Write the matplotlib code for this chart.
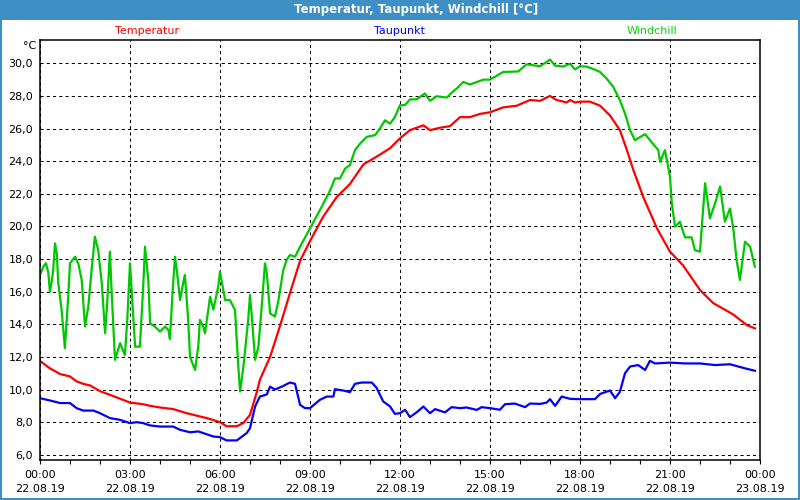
import matplotlib.pyplot as plt
import matplotlib.ticker as mticker
from matplotlib.patches import Rectangle

# -----------------------------
# Data (hours since 22.08.19 00:00)
# -----------------------------
temp_t = [0, 0.33, 0.67, 1.0, 1.22, 1.44, 1.67, 2.0, 2.44, 3.0,
          3.44, 3.67, 4.0, 4.44, 4.89, 5.33, 5.56, 6.0, 6.22, 6.56,
          6.78, 7.0, 7.22, 7.33, 7.67, 8.0, 8.33, 8.67, 9.0, 9.44,
          9.89, 10.33, 10.78, 11.33, 11.67, 12.0, 12.33, 12.78, 13.0, 13.33,
          13.67, 14.0, 14.33, 14.67, 15.0, 15.44, 15.89, 16.33, 16.67, 17.0,
          17.22, 17.56, 17.67, 17.83, 18.0, 18.33, 18.67, 19.0, 19.33, 19.56,
          19.78, 20.11, 20.56, 21.0, 21.44, 22.0, 22.44, 23.11, 23.56, 23.83]
temp_v = [11.75, 11.3, 10.95, 10.8, 10.5, 10.35, 10.25, 9.9, 9.6, 9.2,
          9.1, 9.0, 8.9, 8.8, 8.55, 8.35, 8.25, 8.0, 7.75, 7.75,
          7.95, 8.45, 9.8, 10.6, 12.0, 13.9, 15.9, 17.9, 19.1, 20.6,
          21.8, 22.6, 23.8, 24.4, 24.8, 25.4, 25.9, 26.2, 25.9, 26.05,
          26.15, 26.7, 26.7, 26.9, 27.0, 27.3, 27.4, 27.75, 27.7, 28.0,
          27.75, 27.6, 27.75, 27.6, 27.65, 27.65, 27.4, 26.8, 25.9, 24.7,
          23.45, 21.8, 19.9, 18.45, 17.6, 16.1, 15.3, 14.6, 13.95, 13.75]

dew_t = [0, 0.33, 0.67, 1.0, 1.22, 1.44, 1.78, 2.0, 2.33, 2.67,
         3.0, 3.22, 3.44, 3.67, 4.0, 4.44, 4.67, 5.0, 5.28, 5.44,
         5.78, 6.0, 6.22, 6.56, 6.89, 7.0, 7.17, 7.33, 7.56, 7.67,
         7.83, 8.11, 8.33, 8.5, 8.67, 8.83, 9.0, 9.33, 9.56, 9.78,
         9.83, 10.11, 10.33, 10.5, 10.72, 11.06, 11.22, 11.44, 11.67, 11.83,
         12.0, 12.17, 12.33, 12.56, 12.78, 13.0, 13.17, 13.33, 13.5, 13.72,
         14.0, 14.22, 14.56, 14.72, 15.0, 15.33, 15.5, 15.83, 16.17, 16.33,
         16.67, 16.89, 17.0, 17.17, 17.39, 17.67, 18.0, 18.5, 18.67, 19.0,
         19.17, 19.33, 19.5, 19.67, 19.94, 20.17, 20.33, 20.5, 21.0, 21.5,
         22.0, 22.5, 23.0, 23.5, 23.83]
dew_v = [9.47, 9.33, 9.17, 9.17, 8.86, 8.71, 8.71, 8.55, 8.25, 8.14,
         7.94, 8.0, 7.94, 7.8, 7.73, 7.73, 7.53, 7.38, 7.43, 7.33,
         7.12, 7.08, 6.88, 6.88, 7.33, 7.63, 8.96, 9.57, 9.7, 10.18,
         10.0, 10.22, 10.43, 10.35, 9.06, 8.86, 8.86, 9.37, 9.57, 9.57,
         10.02, 9.94, 9.84, 10.35, 10.43, 10.43, 10.1, 9.27, 8.96, 8.51,
         8.55, 8.76, 8.31, 8.61, 8.96, 8.55, 8.8, 8.7, 8.6, 8.92,
         8.86, 8.9, 8.75, 8.92, 8.86, 8.76, 9.1, 9.14, 8.92, 9.14,
         9.12, 9.2, 9.41, 9.0, 9.57, 9.43, 9.41, 9.41, 9.73, 9.94,
         9.47, 9.86, 11.0, 11.41, 11.5, 11.2, 11.76, 11.6, 11.65, 11.6,
         11.6, 11.5, 11.55, 11.3, 11.15]

wind_t = [0, 0.11, 0.2, 0.28, 0.33, 0.39, 0.44, 0.5, 0.56, 0.61,
          0.72, 0.83, 0.87, 0.94, 1.0, 1.17, 1.28, 1.39, 1.5, 1.61,
          1.72, 1.83, 1.94, 2.06, 2.17, 2.24, 2.33, 2.39, 2.5, 2.67,
          2.83, 2.91, 3.0, 3.06, 3.17, 3.33, 3.44, 3.5, 3.61, 3.67,
          3.83, 4.0, 4.17, 4.28, 4.33, 4.42, 4.5, 4.56, 4.67, 4.78,
          4.83, 4.94, 5.0, 5.17, 5.28, 5.33, 5.44, 5.5, 5.61, 5.67,
          5.78, 5.94, 6.0, 6.06, 6.17, 6.33, 6.5, 6.61, 6.67, 6.78,
          6.94, 7.0, 7.06, 7.17, 7.28, 7.39, 7.5, 7.56, 7.67, 7.83,
          7.94, 8.11, 8.22, 8.33, 8.5, 8.67, 9.0, 9.33, 9.67, 9.83,
          10.0, 10.17, 10.33, 10.5, 10.67, 10.89, 11.17, 11.33, 11.5, 11.67,
          11.83, 12.0, 12.17, 12.33, 12.56, 12.83, 13.0, 13.22, 13.56, 13.78,
          13.89, 14.11, 14.33, 14.78, 15.0, 15.44, 15.94, 16.22, 16.67, 17.0,
          17.17, 17.44, 17.67, 17.83, 18.0, 18.22, 18.44, 18.67, 18.89, 19.11,
          19.33, 19.5, 19.67, 19.83, 20.17, 20.33, 20.61, 20.67, 20.83, 20.94,
          21.0, 21.06, 21.17, 21.33, 21.5, 21.72, 21.83, 22.0, 22.06, 22.17,
          22.22, 22.33, 22.5, 22.67, 22.83, 23.0, 23.11, 23.22, 23.33, 23.5,
          23.67, 23.83]
wind_v = [17.02, 17.53, 17.74, 17.13, 16.0, 16.6, 17.33, 18.96, 18.35, 16.51,
          14.88, 12.53, 13.7, 15.69, 17.74, 18.14, 17.7, 16.72, 13.86, 15.08,
          17.33, 19.37, 18.55, 16.51, 13.45, 15.3, 18.45, 15.9, 11.82, 12.84,
          12.12, 14.3, 17.74, 15.9, 12.63, 12.63, 16.31, 18.76, 16.72, 14.06,
          13.86, 13.55, 13.86, 13.65, 13.1, 16.0, 18.14, 17.3, 15.49, 16.6,
          17.02, 14.27, 12.0, 11.2, 12.74, 14.27, 13.86, 13.45, 14.9, 15.69,
          14.9, 16.31, 17.23, 16.6, 15.49, 15.49, 14.88, 11.41, 9.88, 11.41,
          14.27, 15.8, 14.5, 11.82, 12.63, 15.08, 17.74, 17.13, 14.67, 14.47,
          15.39, 17.33, 17.94, 18.25, 18.14, 18.76, 19.88, 21.0, 22.2, 22.94,
          22.94, 23.55, 23.76, 24.68, 25.08, 25.49, 25.6, 26.0, 26.51, 26.3,
          26.71, 27.43, 27.45, 27.78, 27.8, 28.15, 27.7, 27.98, 27.9, 28.3,
          28.45, 28.86, 28.7, 29.0, 29.0, 29.47, 29.5, 29.94, 29.82, 30.23,
          29.86, 29.8, 29.98, 29.63, 29.82, 29.8, 29.65, 29.47, 29.06, 28.55,
          27.74, 26.92, 25.9, 25.29, 25.66, 25.29, 24.68, 23.96, 24.68, 23.65,
          23.04, 21.41, 19.98, 20.29, 19.33, 19.33, 18.55, 18.45, 19.98, 22.65,
          22.0, 20.49, 21.41, 22.45, 20.29, 21.1, 19.88, 17.94, 16.72, 19.06,
          18.76, 17.53]

x_ticks = [0, 3, 6, 9, 12, 15, 18, 21, 24]
x_labels = ["00:00\n22.08.19", "03:00\n22.08.19", "06:00\n22.08.19",
            "09:00\n22.08.19", "12:00\n22.08.19", "15:00\n22.08.19",
            "18:00\n22.08.19", "21:00\n22.08.19", "00:00\n23.08.19"]
y_ticks = [6, 8, 10, 12, 14, 16, 18, 20, 22, 24, 26, 28, 30]

FRAME = "#3d8fc5"
RED = "#ff0000"
BLUE = "#0000ff"
GREEN = "#00c800"

# -----------------------------
# Figure / window frame
# -----------------------------
fig = plt.figure(figsize=(8, 5), dpi=100)
fig.patch.set_facecolor("white")
fig.patches.append(Rectangle((0, 1 - 20 / 500), 1, 20 / 500, transform=fig.transFigure,
                             facecolor=FRAME, edgecolor="none", zorder=0))
fig.patches.append(Rectangle((0.001, 0.002), 0.998, 0.99, transform=fig.transFigure,
                             facecolor="none", edgecolor=FRAME, lw=1.5, zorder=0))

fig.text(416 / 800, 1 - 10 / 500, "Temperatur, Taupunkt, Windchill [°C]",
         color="white", fontsize=8.5, fontweight="bold", ha="center", va="center")
fig.text(147 / 800, 1 - 31 / 500, "Temperatur", color=RED, fontsize=8, ha="center", va="center")
fig.text(400 / 800, 1 - 31 / 500, "Taupunkt", color=BLUE, fontsize=8, ha="center", va="center")
fig.text(652 / 800, 1 - 31 / 500, "Windchill", color="#10d010", fontsize=8, ha="center", va="center")
fig.text(30 / 800, 1 - 46 / 500, "°C", color="black", fontsize=8, ha="center", va="center")

ax = fig.add_axes([40 / 800, 40 / 500, 720 / 800, 420 / 500])

ax.plot(temp_t, temp_v, color=RED, lw=1.6)
ax.plot(dew_t, dew_v, color=BLUE, lw=1.6)
ax.plot(wind_t, wind_v, color=GREEN, lw=1.6)

ax.set_xlim(0, 24)
ax.set_ylim(5.68, 31.43)

ax.set_xticks(x_ticks)
ax.set_xticklabels(x_labels, fontsize=8, linespacing=1.55)
ax.xaxis.set_minor_locator(mticker.MultipleLocator(1))
ax.set_yticks(y_ticks)
ax.set_yticklabels([f"{v:.1f}".replace(".", ",") for v in y_ticks], fontsize=8)

ax.tick_params(axis="x", which="both", direction="out", length=3, width=0.8, pad=4)
ax.tick_params(axis="y", length=0, pad=5)

ax.set_axisbelow(True)
ax.grid(True, which="major", color="black", lw=0.75, ls=(0, (3, 3)))

for sp in ax.spines.values():
    sp.set_linewidth(1.1)

fig.savefig("out.png", dpi=100)
